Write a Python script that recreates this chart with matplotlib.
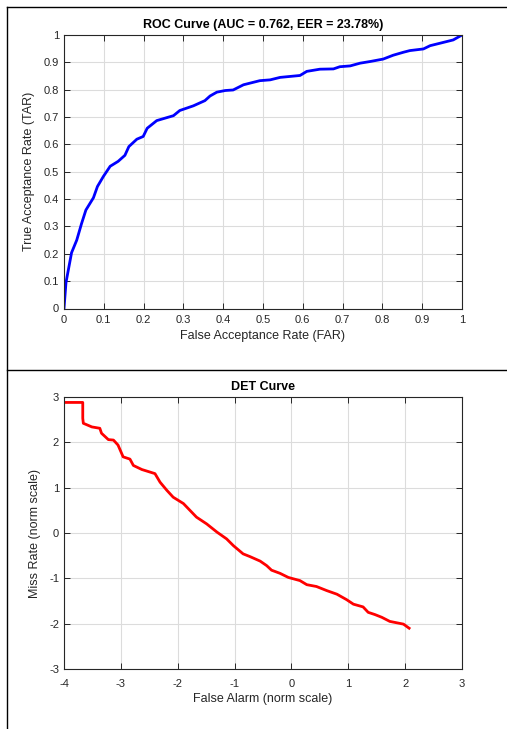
import matplotlib
matplotlib.use("Agg")
import matplotlib.pyplot as plt
from matplotlib.lines import Line2D

plt.rcParams['font.family'] = ['Liberation Sans', 'DejaVu Sans']
plt.rcParams['axes.unicode_minus'] = False

# ROC curve data
roc_far = [0.0, 0.005, 0.019, 0.032, 0.044, 0.055, 0.074, 0.084, 0.099, 0.116, 0.136,
           0.153, 0.163, 0.183, 0.199, 0.209, 0.233, 0.275, 0.291, 0.325, 0.354, 0.367,
           0.384, 0.405, 0.425, 0.451, 0.492, 0.518, 0.543, 0.593, 0.61, 0.643, 0.677,
           0.693, 0.719, 0.744, 0.769, 0.802, 0.827, 0.853, 0.869, 0.903, 0.92, 0.945,
           0.978, 1.0]
roc_tar = [0.0, 0.095, 0.204, 0.25, 0.31, 0.36, 0.405, 0.446, 0.483, 0.52, 0.538,
           0.56, 0.592, 0.619, 0.629, 0.659, 0.687, 0.705, 0.724, 0.741, 0.76, 0.777,
           0.791, 0.797, 0.799, 0.818, 0.833, 0.836, 0.845, 0.852, 0.867, 0.875, 0.876,
           0.884, 0.887, 0.897, 0.903, 0.912, 0.926, 0.937, 0.943, 0.949, 0.961, 0.97,
           0.982, 1.0]

# DET curve data (normal deviate scale)
det_fa = [-3.965, -3.67, -3.67, -3.66, -3.51, -3.37, -3.34, -3.22, -3.13, -3.05, -2.96,
          -2.84, -2.78, -2.63, -2.40, -2.31, -2.19, -2.08, -1.90, -1.67, -1.49, -1.31,
          -1.14, -1.02, -0.85, -0.73, -0.55, -0.435, -0.35, -0.20, -0.055, 0.15, 0.27,
          0.44, 0.62, 0.80, 0.97, 1.09, 1.26, 1.35, 1.47, 1.59, 1.73, 1.97, 2.07]
det_miss = [2.88, 2.88, 2.53, 2.42, 2.34, 2.31, 2.20, 2.06, 2.05, 1.94, 1.68,
            1.63, 1.49, 1.40, 1.31, 1.12, 0.94, 0.79, 0.65, 0.35, 0.20, 0.02,
            -0.13, -0.28, -0.46, -0.52, -0.62, -0.72, -0.82, -0.89, -0.98, -1.05, -1.14,
            -1.18, -1.27, -1.35, -1.47, -1.57, -1.63, -1.75, -1.80, -1.86, -1.95, -2.01, -2.10]

roc_xticks = [0, 0.1, 0.2, 0.3, 0.4, 0.5, 0.6, 0.7, 0.8, 0.9, 1]
roc_ticklabels = ['0', '0.1', '0.2', '0.3', '0.4', '0.5', '0.6', '0.7', '0.8', '0.9', '1']
det_ticks = [-4, -3, -2, -1, 0, 1, 2, 3]
det_yticks = [-3, -2, -1, 0, 1, 2, 3]

fig = plt.figure(figsize=(5.07, 7.29), dpi=100)

axcol = '#262626'

def style(ax):
    ax.grid(True, color='#dcdcdc', linewidth=0.8)
    ax.set_axisbelow(True)
    ax.tick_params(direction='in', top=True, right=True, labelsize=8, colors=axcol,
                   length=4, width=0.7)
    ax.tick_params(axis='x', pad=5)
    for s in ax.spines.values():
        s.set_color(axcol)
        s.set_linewidth(0.8)

ax1 = fig.add_axes([64/507, 1-308.5/729, 398/507, 273.5/729])
ax1.plot(roc_far, roc_tar, color='#0000ff', linewidth=2)
ax1.set_xlim(0, 1)
ax1.set_ylim(0, 1)
ax1.set_xticks(roc_xticks)
ax1.set_xticklabels(roc_ticklabels)
ax1.set_yticks(roc_xticks)
ax1.set_yticklabels(roc_ticklabels)
style(ax1)
ax1.set_title('ROC Curve (AUC = 0.762, EER = 23.78%)', fontsize=9, fontweight='bold', pad=5)
ax1.set_xlabel('False Acceptance Rate (FAR)', fontsize=9, color=axcol, labelpad=3)
ax1.set_ylabel('True Acceptance Rate (TAR)', fontsize=9, color=axcol, labelpad=6)

ax2 = fig.add_axes([64/507, 1-669/729, 398/507, 272/729])
ax2.plot(det_fa, det_miss, color='#ff0000', linewidth=2)
ax2.set_xlim(-4, 3)
ax2.set_ylim(-3, 3)
ax2.set_xticks(det_ticks)
ax2.set_yticks(det_yticks)
style(ax2)
ax2.tick_params(axis='x', pad=7)
ax2.set_title('DET Curve', fontsize=9, fontweight='bold', pad=5)
ax2.set_xlabel('False Alarm (norm scale)', fontsize=9, color=axcol, labelpad=3)
ax2.set_ylabel('Miss Rate (norm scale)', fontsize=9, color=axcol, labelpad=6)

# frame lines
fig.add_artist(Line2D([7/507, 1], [1-7/729, 1-7/729], color='black', linewidth=1))
fig.add_artist(Line2D([7/507, 7/507], [0, 1-7/729], color='black', linewidth=1))
fig.add_artist(Line2D([7/507, 1], [1-370/729, 1-370/729], color='black', linewidth=1))

fig.savefig('out.png', dpi=100)
